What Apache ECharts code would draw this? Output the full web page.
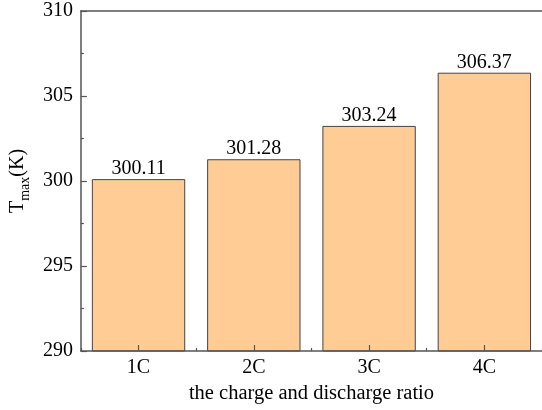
<!DOCTYPE html>
<html>
<head>
<meta charset="utf-8">
<script src="https://cdn.jsdelivr.net/npm/echarts@6/dist/echarts.min.js"></script>
<style>
  html, body { margin: 0; padding: 0; background: #fff; }
  #chart { width: 542px; height: 410px; }
</style>
</head>
<body>
<div id="chart"></div>
<script>
// Peak temperature at each charge/discharge rate
const categories = ['1C', '2C', '3C', '4C'];
const tmaxValues = [300.11, 301.28, 303.24, 306.37];
const yTicks = [290, 295, 300, 305, 310];

const FONT = '"Liberation Serif", "Times New Roman", serif';
const AXIS_COLOR = '#555';
const lineStyle = { color: AXIS_COLOR, width: 1.5 };
const tickStyle = { color: AXIS_COLOR, width: 1.2 };

const chart = echarts.init(document.getElementById('chart'));
chart.setOption({
  animation: false,
  textStyle: { fontFamily: FONT },
  grid: { left: 80, right: -3, top: 11, bottom: 59 },
  xAxis: [
    {
      type: 'category',
      data: categories,
      position: 'bottom',
      name: 'the charge and discharge ratio',
      nameLocation: 'middle',
      nameGap: 24,
      nameTextStyle: { fontFamily: FONT, fontSize: 20.5, color: '#000' },
      axisLine: { show: true, lineStyle },
      axisTick: { show: true, inside: true, alignWithLabel: true, length: 6, lineStyle: tickStyle },
      axisLabel: { fontFamily: FONT, fontSize: 20, color: '#000', margin: 7 },
      splitLine: { show: false },
      z: 5
    },
    {
      // boundary ticks between categories
      type: 'value',
      min: 0, max: 4, interval: 1,
      position: 'bottom',
      axisLine: { show: false },
      axisTick: { show: true, inside: true, length: 3, lineStyle: tickStyle },
      axisLabel: { show: false },
      splitLine: { show: false },
      z: 5
    },
    {
      // top frame line
      type: 'category',
      data: categories,
      position: 'top',
      axisLine: { show: true, lineStyle },
      axisTick: { show: false },
      axisLabel: { show: false }
    }
  ],
  yAxis: [
    {
      type: 'value',
      min: yTicks[0],
      max: yTicks[yTicks.length - 1],
      interval: 5,
      position: 'left',
      name: '{t|T}{s|max}{t|(K)}',
      nameLocation: 'middle',
      nameGap: 34,
      nameRotate: 90,
      nameTextStyle: {
        rich: {
          t: { fontFamily: FONT, fontSize: 20, color: '#000', verticalAlign: 'bottom' },
          s: { fontFamily: FONT, fontSize: 14, color: '#000', verticalAlign: 'bottom', padding: [0, 0, -4, 0] }
        }
      },
      axisLine: { show: true, lineStyle },
      axisTick: { show: true, inside: true, length: 6, lineStyle: tickStyle },
      minorTick: { show: true, splitNumber: 2, length: 3, lineStyle: tickStyle },
      axisLabel: { fontFamily: FONT, fontSize: 20, color: '#000', margin: 8 },
      splitLine: { show: false },
      z: 5
    }
  ],
  series: [{
    type: 'bar',
    xAxisIndex: 0,
    yAxisIndex: 0,
    data: tmaxValues,
    barWidth: '81%',
    itemStyle: { color: '#FFCC96', borderColor: '#444', borderWidth: 1 },
    label: {
      show: true,
      position: 'top',
      distance: 0,
      fontFamily: FONT,
      fontSize: 20,
      color: '#000',
      formatter: p => p.value.toFixed(2)
    }
  }]
});
</script>
</body>
</html>
